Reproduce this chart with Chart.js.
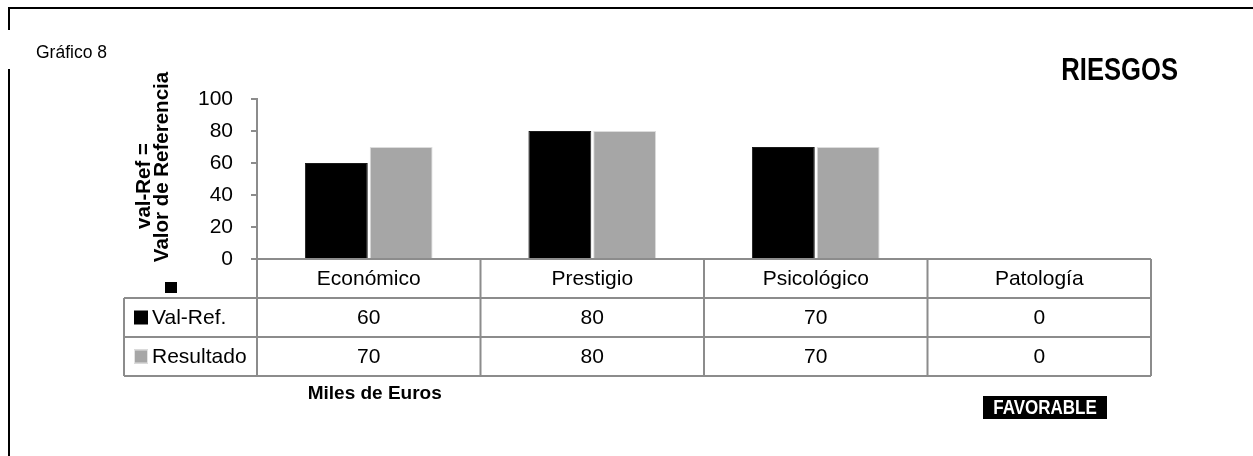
<!DOCTYPE html>
<html>
<head>
<meta charset="utf-8">
<script src="https://cdn.jsdelivr.net/npm/chart.js@4.4.1/dist/chart.umd.min.js"></script>
<style>
  html, body { margin: 0; padding: 0; background: #ffffff; overflow: hidden; }
  #wrap { position: relative; width: 1253px; height: 456px; }
</style>
</head>
<body>
<div id="wrap"><canvas id="c" width="1253" height="456"></canvas></div>
<script>
// Risk categories and the two series shown in the data table
const categories = ['Económico', 'Prestigio', 'Psicológico', 'Patología'];
const valRef = [60, 80, 70, 0];
const resultado = [70, 80, 70, 0];
const seriesNames = ['Val-Ref.', 'Resultado'];
const yTicks = [0, 20, 40, 60, 80, 100];

const FONT = "'Liberation Sans', Arial, sans-serif";
const LINE = '#8c8c8c';
const BLACK = '#000000';
const GREY = '#a6a6a6';

// draw text squeezed horizontally (narrow face look)
function narrowText(ctx, text, x, y, sx) {
  ctx.save();
  ctx.translate(x, y);
  ctx.scale(sx, 1);
  ctx.fillText(text, 0, 0);
  ctx.restore();
}

// Data table under the plot, legend keys, titles and the frame
const tablePlugin = {
  id: 'dataTable',
  afterDraw(chart) {
    const ctx = chart.ctx;
    const area = chart.chartArea;
    const xs = chart.scales.x;
    const colW = (area.right - area.left) / categories.length;
    const rowH = 39;
    const headTop = area.bottom;
    const row1 = headTop + rowH;
    const row2 = row1 + rowH;
    const row3 = row2 + rowH;
    const tableLeft = 124;

    ctx.save();
    ctx.strokeStyle = LINE;
    ctx.lineWidth = 2;
    ctx.beginPath();
    // x axis / header top
    ctx.moveTo(area.left - 5, headTop); ctx.lineTo(area.right, headTop);
    ctx.moveTo(tableLeft, row1); ctx.lineTo(area.right, row1);
    ctx.moveTo(tableLeft, row2); ctx.lineTo(area.right, row2);
    ctx.moveTo(tableLeft, row3); ctx.lineTo(area.right, row3);
    ctx.moveTo(tableLeft, row1); ctx.lineTo(tableLeft, row3);
    for (let i = 0; i <= categories.length; i++) {
      const x = area.left + i * colW;
      ctx.moveTo(x, headTop); ctx.lineTo(x, row3);
    }
    ctx.stroke();

    // header and values
    ctx.fillStyle = '#000';
    ctx.font = '21px ' + FONT;
    ctx.textAlign = 'center';
    ctx.textBaseline = 'middle';
    categories.forEach((c, i) => {
      const cx = xs.getPixelForValue(i);
      ctx.fillText(c, cx, headTop + rowH / 2 + 1);
      ctx.fillText(String(valRef[i]), cx, row1 + rowH / 2 + 1);
      ctx.fillText(String(resultado[i]), cx, row2 + rowH / 2 + 1);
    });

    // legend keys
    const keys = [BLACK, GREY];
    [row1, row2].forEach((top, k) => {
      const cy = top + rowH / 2;
      ctx.fillStyle = keys[k];
      ctx.fillRect(134, cy - 7, 14, 14);
      if (k === 1) {
        ctx.strokeStyle = '#e3e3e3';
        ctx.lineWidth = 1;
        ctx.strokeRect(134.5, cy - 6.5, 13, 13);
      }
      ctx.fillStyle = '#000';
      ctx.textAlign = 'left';
      ctx.fillText(seriesNames[k], 152, cy + 1);
    });

    // rotated axis title with its series key
    ctx.font = 'bold 20.5px ' + FONT;
    ctx.textAlign = 'center';
    ctx.textBaseline = 'alphabetic';
    ctx.save();
    ctx.translate(150, 186);
    ctx.rotate(-Math.PI / 2);
    ctx.fillText('val-Ref =', 0, 0);
    ctx.restore();
    ctx.save();
    ctx.translate(168, 167);
    ctx.rotate(-Math.PI / 2);
    ctx.fillText('Valor de Referencia', 0, 0);
    ctx.restore();
    ctx.fillStyle = BLACK;
    ctx.fillRect(165, 282, 12, 11);

    // captions
    ctx.fillStyle = '#000';
    ctx.textAlign = 'left';
    ctx.textBaseline = 'middle';
    ctx.font = '17.5px ' + FONT;
    ctx.fillText('Gráfico 8', 36, 53);

    ctx.font = 'bold 32px ' + FONT;
    ctx.textAlign = 'right';
    narrowText(ctx, 'RIESGOS', 1178, 71, 0.8);

    ctx.font = 'bold 19px ' + FONT;
    ctx.textAlign = 'center';
    ctx.fillText('Miles de Euros', xs.getPixelForValue(0) + 6, 394);

    // status badge
    ctx.fillStyle = '#000';
    ctx.fillRect(983, 396, 124, 23);
    ctx.fillStyle = '#fff';
    ctx.font = 'bold 20px ' + FONT;
    narrowText(ctx, 'FAVORABLE', 1045, 408, 0.85);

    // frame
    ctx.strokeStyle = '#000';
    ctx.lineWidth = 2;
    ctx.beginPath();
    ctx.moveTo(9, 8); ctx.lineTo(1253, 8);
    ctx.moveTo(9, 7); ctx.lineTo(9, 30);
    ctx.moveTo(9, 69); ctx.lineTo(9, 456);
    ctx.stroke();
    ctx.restore();
  }
};

new Chart(document.getElementById('c'), {
  type: 'bar',
  data: {
    labels: categories,
    datasets: [
      { label: seriesNames[0], data: valRef, backgroundColor: BLACK, borderColor: '#1a1a1a', borderWidth: 1,
        categoryPercentage: 0.58, barPercentage: 0.97 },
      { label: seriesNames[1], data: resultado, backgroundColor: GREY, borderColor: '#dcdcdc', borderWidth: 1,
        categoryPercentage: 0.58, barPercentage: 0.97 }
    ]
  },
  options: {
    responsive: false,
    animation: false,
    devicePixelRatio: 1,
    layout: { padding: { top: 99, right: 102, left: 0, bottom: 0 } },
    plugins: { legend: { display: false }, tooltip: { enabled: false }, title: { display: false } },
    scales: {
      x: {
        ticks: { display: false },
        grid: { display: false, drawTicks: false },
        border: { display: false },
        afterFit(s) { s.height = 456 - 259; }
      },
      y: {
        min: 0, max: 100,
        afterBuildTicks(s) { s.ticks = yTicks.map(v => ({ value: v })); },
        ticks: { color: '#000', font: { family: FONT, size: 21 }, padding: 18 },
        grid: { drawOnChartArea: false, drawTicks: true, tickLength: 6, color: LINE, lineWidth: 2 },
        border: { display: true, color: LINE, width: 2 },
        afterFit(s) { s.width = 257; }
      }
    }
  },
  plugins: [tablePlugin]
});
</script>
</body>
</html>
